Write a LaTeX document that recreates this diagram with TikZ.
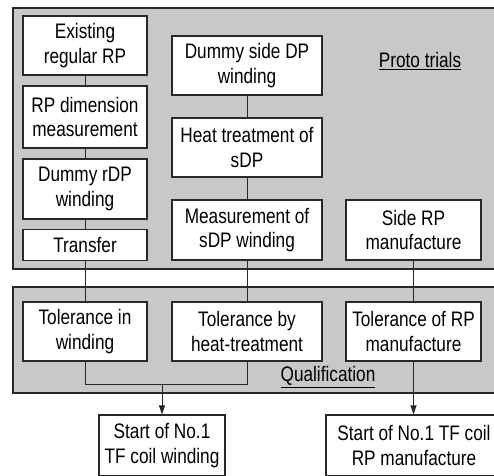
\documentclass[tikz,border=0pt]{standalone}
\usepackage{fontspec}
\setmainfont{Liberation Sans}[FakeStretch=0.82]
\usetikzlibrary{arrows.meta}
\definecolor{panelgray}{RGB}{200,200,201}
\definecolor{edgegray}{RGB}{40,40,40}
\tikzset{
  stepbox/.style={draw=edgegray, fill=white, line width=1.1pt, align=center, inner sep=0pt,
    font=\fontsize{21}{24.5}\selectfont},
  panel/.style={draw=edgegray, fill=panelgray, line width=1.1pt},
  conn/.style={draw=edgegray, line width=0.9pt},
  arr/.style={conn, -{Triangle[length=9pt,width=6pt]}},
  lbl/.style={font=\fontsize{21}{24.5}\selectfont, inner sep=0pt}
}
\begin{document}
\begin{tikzpicture}[x=1pt,y=-1pt]
\useasboundingbox (0,0) rectangle (494,475);
\clip (0,0) rectangle (494,475);
% panels
\draw[panel] (13,8) rectangle (520,269);
\draw[panel] (13,287) rectangle (520,393);
\node[lbl] (proto) at (420,61) {\underline{Proto trials}};
\node[lbl] (qual) at (328,377) {\underline{Qualification}};
% left column
\node[stepbox, minimum width=124pt, minimum height=59pt] (e1) at (85,45.5) {Existing\\regular RP};
\node[stepbox, minimum width=124pt, minimum height=62pt] (e2) at (85,117) {RP dimension\\measurement};
\node[stepbox, minimum width=124pt, minimum height=60pt] (e3) at (85,189) {Dummy rDP\\winding};
\node[stepbox, minimum width=124pt, minimum height=31pt] (e4) at (85,245) {Transfer};
% middle column
\node[stepbox, minimum width=150pt, minimum height=59pt] (m1) at (247,65.5) {Dummy side DP\\winding};
\node[stepbox, minimum width=150pt, minimum height=59pt] (m2) at (247,147.5) {Heat treatment of\\sDP};
\node[stepbox, minimum width=150pt, minimum height=60pt] (m3) at (247,230) {Measurement of\\sDP winding};
% right column
\node[stepbox, minimum width=135pt, minimum height=60pt] (r1) at (413.5,230) {Side RP\\manufacture};
% qualification
\node[stepbox, minimum width=124pt, minimum height=59pt] (q1) at (85,331.5) {Tolerance in\\winding};
\node[stepbox, minimum width=150pt, minimum height=59pt] (q2) at (247,331.5) {Tolerance by\\heat-treatment};
\node[stepbox, minimum width=135pt, minimum height=59pt] (q3) at (413.5,331.5) {Tolerance of RP\\manufacture};
% start boxes
\node[stepbox, minimum width=126pt, minimum height=61pt] (s1) at (162,445.5) {Start of No.1\\TF coil winding};
\node[stepbox, minimum width=176pt, minimum height=61pt] (s2) at (414,445.5) {Start of No.1 TF coil\\RP manufacture};
% junction
\coordinate (j1) at (85,384);
\coordinate (jm) at (162,384);
% connectors
\draw[conn] (e1) -- (e2);
\draw[conn] (e2) -- (e3);
\draw[conn] (e3) -- (e4);
\draw[conn] (e4) -- (q1);
\draw[conn] (m1) -- (m2);
\draw[conn] (m2) -- (m3);
\draw[conn] (m3) -- (q2);
\draw[conn] (r1) -- (q3);
\draw[conn] (q1.south) -- (j1) -| (q2.south);
\draw[arr] (jm) -- (s1.north);
\draw[arr] (q3.south) -- (q3.south |- s2.north);
\end{tikzpicture}
\end{document}
